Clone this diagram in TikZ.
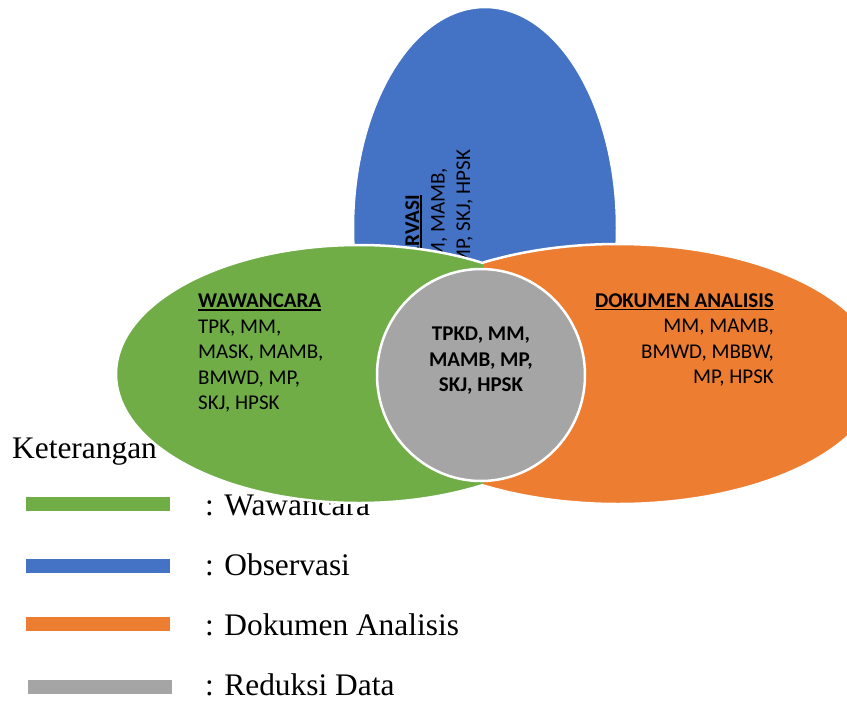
\documentclass[tikz,border=0pt]{standalone}
\usepackage{fontspec}
\setmainfont{Liberation Serif}
\newfontfamily\calibri{Carlito}
\usetikzlibrary{positioning}

\definecolor{hijau}{HTML}{70AD47}
\definecolor{biru}{HTML}{4472C4}
\definecolor{oranye}{HTML}{ED7D31}
\definecolor{abu}{HTML}{A5A5A5}

% judul tebal bergaris bawah
\newcommand{\judul}[1]{\leavevmode\vtop{\hbox{\textbf{#1}}\kern1.2pt\hrule height 1.8pt}}

\tikzset{
  blob/.style={draw=white, line width=2.5pt},
  isi/.style={font=\calibri\fontsize{21}{25.5}\selectfont, inner sep=0pt},
  bar/.style={minimum width=144pt, minimum height=14pt, inner sep=0pt},
  ket/.style={font=\fontsize{31.4}{36}\selectfont, anchor=base west, inner sep=0pt}
}

\begin{document}
\begin{tikzpicture}[x=1pt,y=-1pt]

\useasboundingbox (0,0) rectangle (847,702);

% keterangan
\node [ket] (ket) at (12,458) {Keterangan};
\node [ket] (lw) at (205,515) {: Wawancara};
\node [ket] (lo) at (205,575) {: Observasi};
\node [ket] (ld) at (205,635) {: Dokumen Analisis};
\node [ket] (lr) at (205,695) {: Reduksi Data};

\node [bar, fill=hijau] (bw) at (98,504) {};
\node [bar, fill=biru] (bo) at (98,566) {};
\node [bar, fill=oranye] (bd) at (98,624) {};
\node [bar, fill=abu] (br) at (100,687) {};

% observasi
\path [blob, fill=biru] (485,228) ellipse (132pt and 221pt);
\node [isi, rotate=90, align=center] (obs) at (439,244)
  {\judul{OBSERVASI}\\TPK, MM, MAMB,\\BMWD, MP, SKJ, HPSK};

% wawancara
\path [blob, fill=hijau] (359,374) ellipse (243pt and 129pt);
\node [isi, anchor=west, align=left] (waw) at (198,353)
  {\judul{WAWANCARA}\\TPK, MM,\\MASK, MAMB,\\BMWD, MP,\\SKJ, HPSK};

% dokumen analisis
\begin{scope}
\clip (483,0) rectangle (847,702);
\path [blob, fill=oranye] (618,374) ellipse (262pt and 130pt);
\end{scope}
\node [isi, anchor=east, align=right] (dok) at (774,340)
  {\judul{DOKUMEN ANALISIS}\\MM, MAMB,\\BMWD, MBBW,\\MP, HPSK};

% reduksi data
\path [blob, fill=abu] (481,375) ellipse (104pt and 106pt);
\node [isi, align=center, font=\calibri\bfseries\fontsize{21}{25.5}\selectfont] (red) at (481,361)
  {TPKD, MM,\\MAMB, MP,\\SKJ, HPSK};

\end{tikzpicture}
\end{document}
